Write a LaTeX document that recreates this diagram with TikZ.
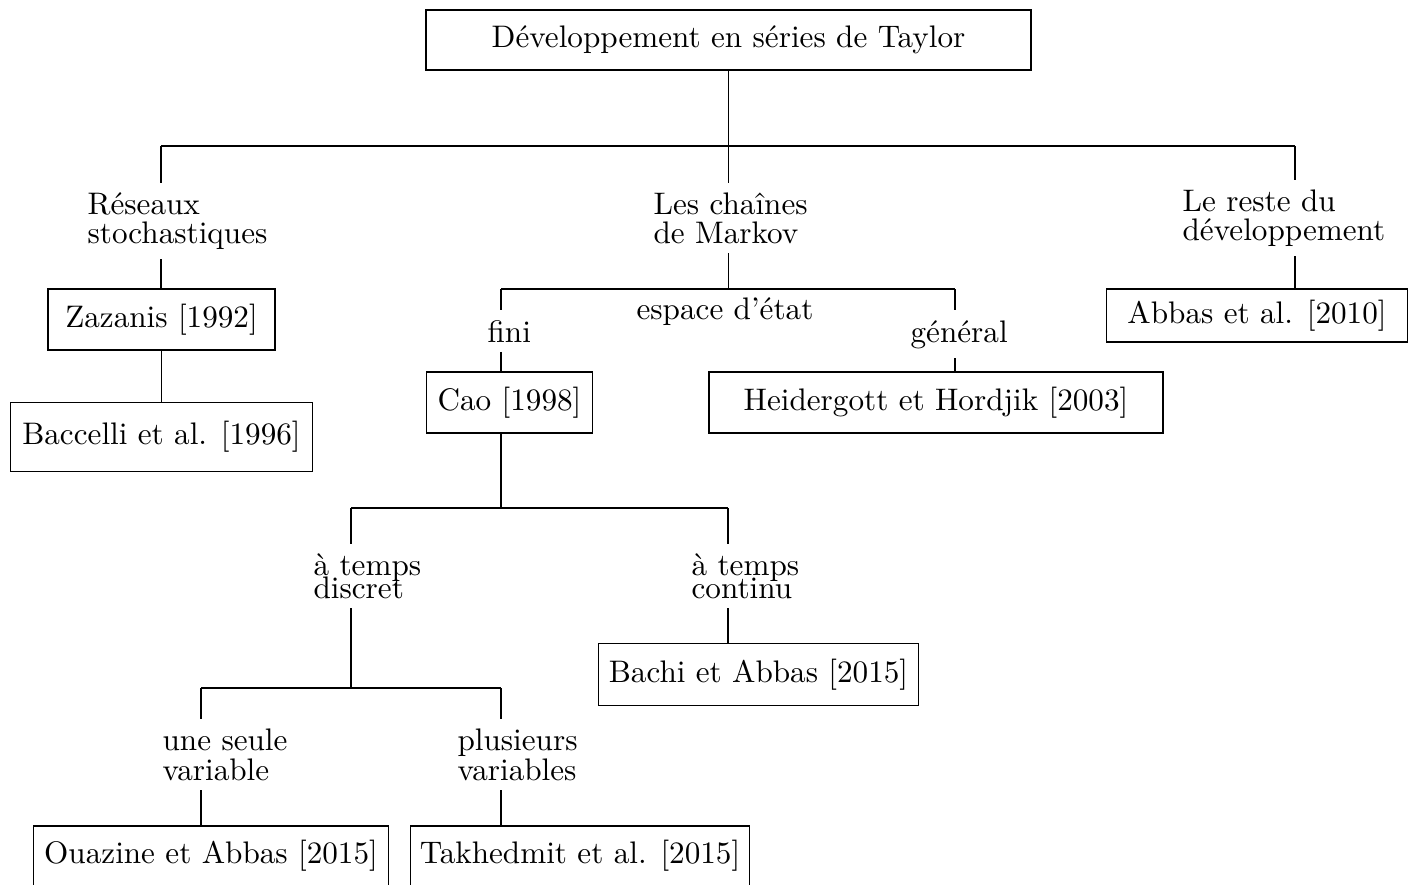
\documentclass[tikz,border=0pt]{standalone}
\usepackage{tikz}
\tikzset{
  refbox/.style={draw=black, line width=0.4pt, inner sep=3pt},
  branchlabel/.style={align=left, inner xsep=0pt, inner ysep=3pt, anchor=base west},
  link/.style={draw=black, line width=0.4pt},
}

\begin{document}
\begin{tikzpicture}[x=0.01127cm, y=-0.01127cm]
\useasboundingbox (0,0) rectangle (1415,884);
% boxes
\node[refbox, minimum width=6.82cm, minimum height=0.676cm] (root) at (728.5,40) {Développement en séries de Taylor};
\node[refbox, minimum width=2.56cm, minimum height=0.687cm] (zazanis) at (161.5,319.5) {Zazanis [1992]};
\node[refbox, minimum width=3.41cm, minimum height=0.778cm] (baccelli) at (161.5,437) {Baccelli et al. [1996]};
\node[refbox, minimum width=1.88cm, minimum height=0.687cm] (cao) at (509.5,402.5) {Cao [1998]};
\node[refbox, minimum width=5.12cm, minimum height=0.687cm] (heid) at (936,402.5) {Heidergott et Hordjik [2003]};
\node[refbox, minimum width=3.40cm, minimum height=0.597cm] (abbas) at (1257,315.5) {Abbas et al. [2010]};
\node[refbox, minimum width=3.60cm, minimum height=0.699cm] (bachi) at (758.5,674.5) {Bachi et Abbas [2015]};
\node[refbox, minimum width=4.01cm, minimum height=0.676cm] (ouazine) at (211,856) {Ouazine et Abbas [2015]};
\node[refbox, minimum width=3.83cm, minimum height=0.676cm] (takhedmit) at (580,856) {Takhedmit et al. [2015]};
% branch labels (base = last line)
\node[branchlabel] (reseaux) at (87,243) {Réseaux\\[-2.9pt]stochastiques};
\node[branchlabel] (chaines) at (653,243) {Les chaînes\\[-2.9pt]de Markov};
\node[branchlabel] (reste) at (1182,240) {Le reste du\\[-2.9pt]développement};
\node[branchlabel] (fini) at (487,342) {fini};
\node[branchlabel, anchor=base] (espace) at (725,319) {espace d'état};
\node[branchlabel] (general) at (910,342) {général};
\node[branchlabel] (discret) at (313,598) {à temps\\[-4.8pt]discret};
\node[branchlabel] (continu) at (691,598) {à temps\\[-4.8pt]continu};
\node[branchlabel] (seule) at (162,780) {une seule\\[-2.6pt]variable};
\node[branchlabel] (plusieurs) at (457,780) {plusieurs\\[-2.6pt]variables};
% bus coordinates
\coordinate (b1l) at (161,146);
\coordinate (b1r) at (1295,146);
\coordinate (b2l) at (501,289);
\coordinate (b2r) at (955,289);
\coordinate (b3l) at (351,508);
\coordinate (b3r) at (728,508);
\coordinate (b4l) at (201,688);
\coordinate (b4r) at (501,688);
% connectors
\draw[link] (root.south) -- (root.south |- b1l);
\draw[link] (b1l) -- (b1r);
\draw[link] (b1l) -- (b1l |- reseaux.north);
\draw[link] (b1l |- reseaux.south) -- (b1l |- zazanis.north);
\draw[link] (zazanis) -- (baccelli);
\draw[link] (root.south |- b1l) -- (root.south |- chaines.north);
\draw[link] (root.south |- chaines.south) -- (root.south |- b2l);
\draw[link] (b2l) -- (b2r);
\draw[link] (b2l) -- (b2l |- fini.north);
\draw[link] (b2l |- fini.south) -- (b2l |- cao.north);
\draw[link] (b2r) -- (b2r |- general.north);
\draw[link] (b2r |- general.south) -- (b2r |- heid.north);
\draw[link] (b1r) -- (b1r |- reste.north);
\draw[link] (b1r |- reste.south) -- (b1r |- abbas.north);
\draw[link] (b2l |- cao.south) -- (b2l |- b3l);
\draw[link] (b3l) -- (b3r);
\draw[link] (b3l) -- (b3l |- discret.north);
\draw[link] (b3l |- discret.south) -- (b3l |- b4l);
\draw[link] (b3r) -- (b3r |- continu.north);
\draw[link] (b3r |- continu.south) -- (b3r |- bachi.north);
\draw[link] (b4l) -- (b4r);
\draw[link] (b4l) -- (b4l |- seule.north);
\draw[link] (b4l |- seule.south) -- (b4l |- ouazine.north);
\draw[link] (b4r) -- (b4r |- plusieurs.north);
\draw[link] (b4r |- plusieurs.south) -- (b4r |- takhedmit.north);
\end{tikzpicture}
\end{document}
